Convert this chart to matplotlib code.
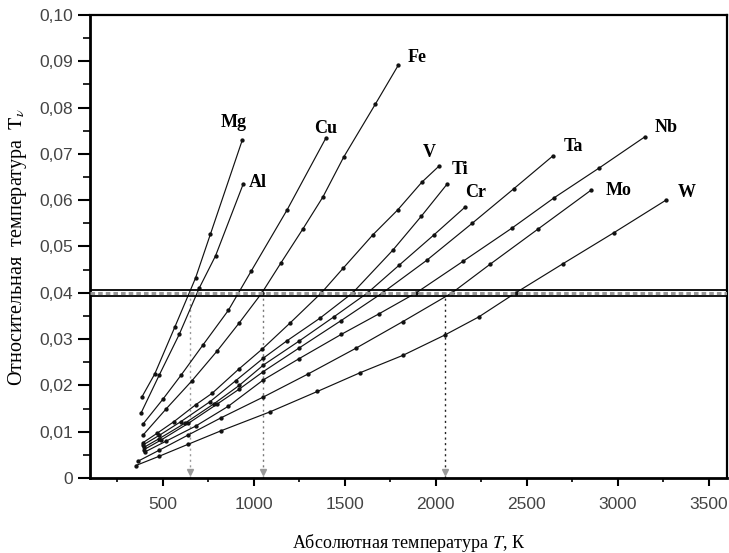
import matplotlib
matplotlib.use("Agg")
import matplotlib.pyplot as plt
from matplotlib.ticker import MultipleLocator, FuncFormatter

# data: absolute temperature T (K) and relative temperature Tv
mg_t = [385, 456, 566, 680, 762, 937]
mg_v = [0.0175, 0.0225, 0.0326, 0.0432, 0.0527, 0.0730]
al_t = [380, 480, 590, 700, 790, 942]
al_v = [0.0140, 0.0222, 0.0310, 0.0410, 0.0480, 0.0635]
cu_t = [392, 500, 600, 720, 860, 986, 1183, 1396]
cu_v = [0.0117, 0.0170, 0.0222, 0.0287, 0.0362, 0.0447, 0.0579, 0.0734]
fe_t = [392, 520, 660, 800, 920, 1045, 1150, 1270, 1380, 1494, 1669, 1795]
fe_v = [0.0093, 0.0150, 0.0210, 0.0275, 0.0335, 0.0400, 0.0465, 0.0538, 0.0607, 0.0693, 0.0808, 0.0892]
v_t = [390, 470, 562, 680, 771, 917, 1045, 1200, 1372, 1491, 1654, 1791, 1924, 2019]
v_v = [0.0076, 0.0097, 0.0122, 0.0158, 0.0183, 0.0235, 0.0278, 0.0335, 0.0400, 0.0453, 0.0525, 0.0579, 0.0639, 0.0674]
ti_t = [390, 480, 600, 760, 900, 1053, 1181, 1363, 1544, 1764, 1920, 2063]
ti_v = [0.0071, 0.0092, 0.0122, 0.0165, 0.0210, 0.0259, 0.0296, 0.0345, 0.0400, 0.0492, 0.0565, 0.0635]
cr_t = [395, 480, 620, 780, 920, 1053, 1250, 1440, 1626, 1800, 1990, 2161]
cr_v = [0.0066, 0.0085, 0.0118, 0.0160, 0.0200, 0.0244, 0.0296, 0.0348, 0.0400, 0.0460, 0.0525, 0.0585]
ta_t = [395, 490, 640, 800, 920, 1053, 1250, 1480, 1708, 1950, 2200, 2430, 2642]
ta_v = [0.0061, 0.0082, 0.0118, 0.0160, 0.0192, 0.0230, 0.0281, 0.0340, 0.0400, 0.0470, 0.0550, 0.0625, 0.0695]
nb_t = [400, 520, 680, 860, 1053, 1250, 1480, 1690, 1893, 2150, 2420, 2650, 2900, 3150]
nb_v = [0.0056, 0.0080, 0.0112, 0.0155, 0.0212, 0.0258, 0.0310, 0.0355, 0.0400, 0.0468, 0.0540, 0.0605, 0.0670, 0.0737]
mo_t = [362, 480, 640, 820, 1053, 1300, 1560, 1820, 2090, 2300, 2560, 2855]
mo_v = [0.0036, 0.0060, 0.0093, 0.0130, 0.0175, 0.0225, 0.0280, 0.0338, 0.0400, 0.0462, 0.0537, 0.0622]
w_t = [352, 480, 640, 820, 1090, 1350, 1582, 1820, 2051, 2237, 2440, 2700, 2980, 3265]
w_v = [0.0027, 0.0047, 0.0073, 0.0102, 0.0143, 0.0187, 0.0227, 0.0265, 0.0309, 0.0348, 0.0400, 0.0463, 0.0530, 0.0600]

metals = ["Mg", "Al", "Cu", "Fe", "V", "Ti", "Cr", "Ta", "Nb", "Mo", "W"]
series = [(mg_t, mg_v), (al_t, al_v), (cu_t, cu_v), (fe_t, fe_v), (v_t, v_v), (ti_t, ti_v),
          (cr_t, cr_v), (ta_t, ta_v), (nb_t, nb_v), (mo_t, mo_v), (w_t, w_v)]

# threshold band and the marked temperatures
tv_level = 0.040
band = [0.0394, 0.0406]
marked_t = [647, 1052, 2051]

# label offsets from the last point, pixels
label_offsets = {"Mg": (-9, 18), "Al": (15, 1), "Cu": (0, 10), "Fe": (19, 7), "V": (-10, 13),
                 "Ti": (13, 14), "Cr": (11, 15), "Ta": (21, 10), "Nb": (21, 9), "Mo": (27, 0), "W": (21, 8)}

plt.rcParams["mathtext.fontset"] = "stix"

fig = plt.figure(figsize=(7.29, 5.53), dpi=100)
ax = fig.add_axes([0.1235, 0.1356, 0.8735, 0.8373])

for name, (t, v) in zip(metals, series):
    ax.plot(t, v, color="#111111", lw=0.85, marker="o", ms=2.1, zorder=3)
    dx, dy = label_offsets[name]
    ax.annotate(name, (t[-1], v[-1]), xytext=(dx, dy), textcoords="offset pixels",
                ha="center", va="center", fontsize=13, fontweight="bold",
                family="Liberation Serif")

# horizontal band around Tv = 0.04
for b in band:
    ax.axhline(b, color="black", lw=1.3, zorder=4)
ax.axhline(tv_level, color="#999999", lw=2.2, ls=(0, (1.5, 1)), zorder=4)

# vertical dotted guides with arrows
guide_colors = ["#999999", "#777777", "#222222"]
for t0, c in zip(marked_t, guide_colors):
    ax.plot([t0, t0], [0, band[1]], color=c, lw=1.0, ls=(0, (1.5, 2.5)), zorder=2)
    ax.plot([t0], [0.0013], marker="v", color="#999999", ms=5, zorder=3)

ax.set_xlim(100, 3600)
ax.set_ylim(0, 0.10)
ax.xaxis.set_major_locator(MultipleLocator(500))
ax.xaxis.set_minor_locator(MultipleLocator(250))
ax.yaxis.set_major_locator(MultipleLocator(0.01))
ax.yaxis.set_minor_locator(MultipleLocator(0.005))

ax.yaxis.set_major_formatter(FuncFormatter(lambda y, p: "0" if abs(y) < 1e-9 else f"{y:.2f}".replace(".", ",")))
ax.xaxis.set_major_formatter(FuncFormatter(lambda x, p: f"{int(round(x))}"))

ax.tick_params(axis="y", which="major", direction="out", length=9, width=1.5, labelsize=12.5,
               labelcolor="#444444", pad=3)
ax.tick_params(axis="y", which="minor", direction="out", length=5, width=1.2)
ax.tick_params(axis="x", which="major", direction="out", length=6, width=1.5, labelsize=12.5,
               labelcolor="#444444", pad=8)
ax.tick_params(axis="x", which="minor", direction="out", length=3, width=1.2)
for lab in ax.get_xticklabels() + ax.get_yticklabels():
    lab.set_family("Liberation Sans")

for side in ["left", "bottom"]:
    ax.spines[side].set_linewidth(2.0)
for side in ["top", "right"]:
    ax.spines[side].set_linewidth(1.6)

ax.set_ylabel("Относительная  температура  $\\mathrm{T}_{\\nu}$", family="Liberation Serif",
              fontsize=14.5, labelpad=8)
ax.set_xlabel("Абсолютная температура $\\mathit{T}$, К", family="Liberation Serif",
              fontsize=13, labelpad=14)

fig.savefig("out.png", dpi=100)
